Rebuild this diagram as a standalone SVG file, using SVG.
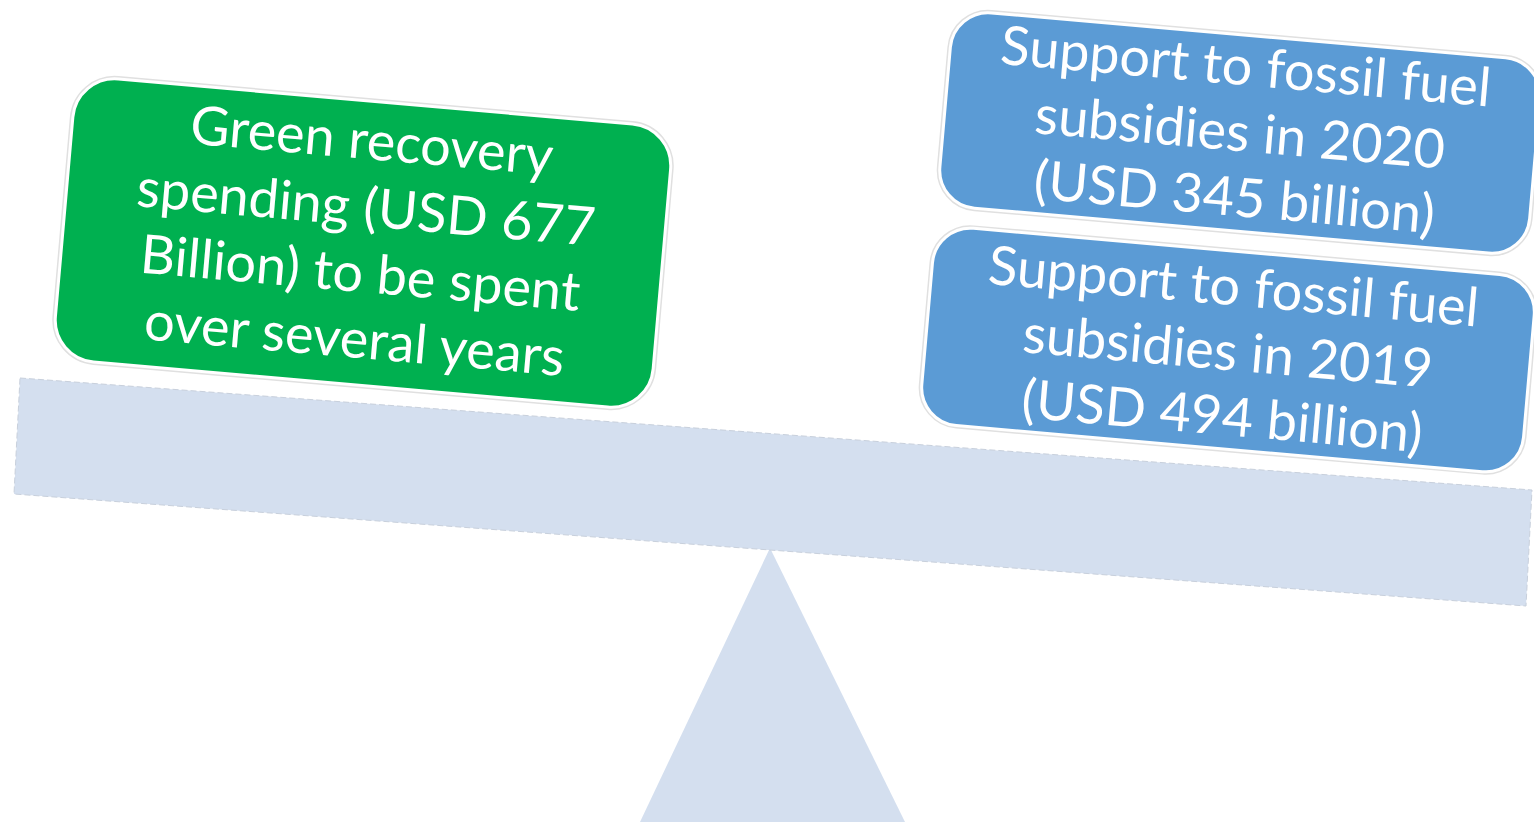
<svg xmlns="http://www.w3.org/2000/svg" width="1534" height="822" viewBox="0 0 1534 822">
<style>
.box-green{fill:#00B050;stroke:#ffffff;stroke-width:3}
.box-blue{fill:#5B9BD5;stroke:#ffffff;stroke-width:3}
.halo{fill:none;stroke:#e0e0e0;stroke-width:6}
.lbl{font-family:Lato,"Open Sans","Liberation Sans",sans-serif;font-size:54px;fill:#ffffff;text-anchor:middle}
.plank{fill:#D4DFEF}
</style>
<rect width="1534" height="822" fill="#ffffff"/>
<g id="fulcrum">
<polygon class="plank" points="770,548 905,822 640,822"/>
</g>
<g id="beam">
<polygon class="plank" points="20,378 1532,490 1526,606 14,494" stroke="#c8d0dc" stroke-width="1" stroke-dasharray="6 3"/>
</g>
<g id="green-node" transform="translate(363,243) rotate(5)">
<rect class="halo" x="-300" y="-142" width="600" height="284" rx="42"/>
<rect class="box-green" x="-300" y="-142" width="600" height="284" rx="42"/>
<text class="lbl"><tspan x="0" y="-84">Green recovery</tspan><tspan x="0" y="-17">spending (USD 677</tspan><tspan x="0" y="49">Billion) to be spent</tspan><tspan x="0" y="115">over several years</tspan></text>
</g>
<g id="blue-node-2020" transform="translate(1240,133) rotate(5)">
<rect class="halo" x="-296" y="-98" width="592" height="196" rx="38"/>
<rect class="box-blue" x="-296" y="-98" width="592" height="196" rx="38"/>
<text class="lbl"><tspan x="0" y="-48">Support to fossil fuel</tspan><tspan x="0" y="18">subsidies in 2020</tspan><tspan x="0" y="83">(USD 345 billion)</tspan></text>
</g>
<g id="blue-node-2019" transform="translate(1228,350) rotate(5)">
<rect class="halo" x="-302" y="-99" width="604" height="198" rx="38"/>
<rect class="box-blue" x="-302" y="-99" width="604" height="198" rx="38"/>
<text class="lbl"><tspan x="0" y="-45">Support to fossil fuel</tspan><tspan x="0" y="20">subsidies in 2019</tspan><tspan x="0" y="85">(USD 494 billion)</tspan></text>
</g>
</svg>
